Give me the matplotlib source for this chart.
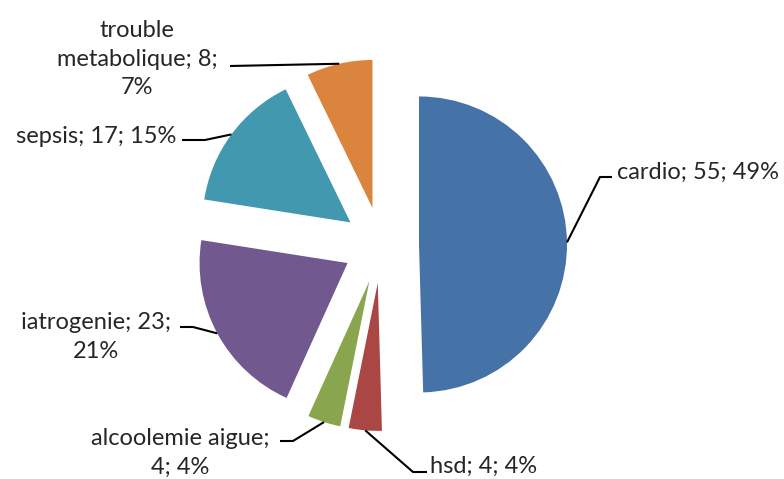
import matplotlib
matplotlib.use("Agg")
import matplotlib.pyplot as plt
import numpy as np

# data
labels = ["cardio", "hsd", "alcoolemie aigue", "iatrogenie", "sepsis", "trouble metabolique"]
counts = [55, 4, 4, 23, 17, 8]
percents = [49, 4, 4, 21, 15, 7]
label_text = ["cardio; 55; 49%",
              "hsd; 4; 4%",
              "alcoolemie aigue;\n4; 4%",
              "iatrogenie; 23;\n21%",
              "sepsis; 17; 15%",
              "trouble\nmetabolique; 8;\n7%"]
colors = ["#4572A7", "#AA4643", "#89A54E", "#71588F", "#4198AF", "#DB843D"]

W, H = 784, 479
fig = plt.figure(figsize=(W / 100, H / 100), dpi=100)
ax = fig.add_axes([0, 0, 1, 1])

def img(x, y):
    # image pixel coords (y down) -> axes data coords (y up)
    return x, H - y

cx, cy = img(381, 245)
R = 148
expl = 38  # pie explode is in data units here

wedges, _ = ax.pie(counts, colors=colors, startangle=90, counterclock=False,
                   radius=R, center=(cx, cy), explode=[expl] * len(counts),
                   wedgeprops=dict(linewidth=0), frame=True)
ax.set_xlim(0, W)
ax.set_ylim(0, H)
ax.set_aspect("auto")
ax.axis("off")

# label layout: text pos, alignment, leader line points after the anchor
layout = [
    ((617, 172), "left", [(600, 177), (612, 177)]),
    ((430, 466), "left", [(413, 472), (427, 472)]),
    ((180, 453), "center", [(293, 441), (280, 441)]),
    ((96, 337), "center", [(193, 327), (180, 327)]),
    ((176, 136), "right", [(205, 140), (182, 140)]),
    ((137, 59), "center", [(230, 66)]),
]

for w, txt, (tpos, ha, pts) in zip(wedges, label_text, layout):
    mid = np.deg2rad((w.theta1 + w.theta2) / 2)
    wx, wy = w.center
    ax_ = wx + w.r * np.cos(mid)
    ay_ = wy + w.r * np.sin(mid)
    xs = [ax_] + [img(*p)[0] for p in pts]
    ys = [ay_] + [img(*p)[1] for p in pts]
    ax.plot(xs, ys, color="black", linewidth=1.5, solid_capstyle="butt")
    tx, ty = img(*tpos)
    ax.text(tx, ty, txt, ha=ha, va="center", multialignment="center",
            fontsize=17, family="Lato", color="#262626", linespacing=1.45)

fig.savefig("out.png", dpi=100)
